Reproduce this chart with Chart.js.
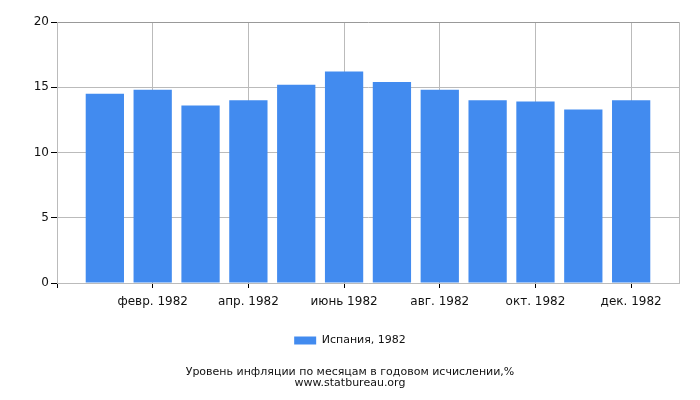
<!DOCTYPE html>
<html>
<head>
<meta charset="utf-8">
<script src="https://cdn.jsdelivr.net/npm/chart.js@4/dist/chart.umd.min.js"></script>
<style>
  html, body { margin: 0; padding: 0; background: #fff; }
  #wrap { width: 700px; height: 400px; }
</style>
</head>
<body>
<div id="wrap"><canvas id="chart"></canvas></div>
<script>
// months shown on the category axis (the axis has an empty slot at each end)
var months = ["янв. 1982", "февр. 1982", "март 1982", "апр. 1982", "май 1982", "июнь 1982",
              "июль 1982", "авг. 1982", "сент. 1982", "окт. 1982", "нояб. 1982", "дек. 1982"];
// inflation, % year on year
var spain1982 = [14.5, 14.8, 13.6, 14.0, 15.2, 16.2, 15.4, 14.8, 14.0, 13.9, 13.3, 14.0];
var yTicks = [0, 5, 10, 15, 20];
var seriesName = "Испания, 1982";
var titleLines = ["Уровень инфляции по месяцам в годовом исчислении,%", "www.statbureau.org"];

var labels = [""].concat(months).concat([""]);
var values = [null].concat(spain1982).concat([null]);

var font = "'DejaVu Sans', sans-serif";
var gridColor = "#bbbbbb";

// every second month gets a label and a grid line
function shown(i) { return i >= 2 && i <= 12 && i % 2 === 0; }

new Chart(document.getElementById("chart").getContext("2d"), {
    type: "bar",
    data: {
        labels: labels,
        datasets: [{
            label: seriesName,
            data: values,
            backgroundColor: "#428bef",
            borderWidth: 0,
            barPercentage: 0.8,
            categoryPercentage: 1.0
        }]
    },
    options: {
        responsive: true,
        maintainAspectRatio: false,
        animation: false,
        // equal side padding keeps legend and title centred on the page
        layout: { padding: { left: 21, right: 21, top: 22, bottom: 11 } },
        scales: {
            x: {
                offset: false,
                border: { color: gridColor, width: 1 },
                grid: {
                    offset: false,
                    color: function(c) {
                        if (c.index === 13) return gridColor;
                        return shown(c.index) ? gridColor : "rgba(0,0,0,0)";
                    },
                    tickColor: function(c) {
                        return (c.index === 0 || shown(c.index)) ? "#000" : "rgba(0,0,0,0)";
                    },
                    tickLength: 5
                },
                ticks: {
                    autoSkip: false,
                    maxRotation: 0,
                    color: "#111",
                    font: { family: font, size: 12 },
                    padding: 7,
                    callback: function(v, i) { return shown(i) ? labels[i] : ""; }
                },
                afterFit: function(s) { s.height = 40; }
            },
            y: {
                min: 0,
                max: 20,
                border: { color: gridColor, width: 1 },
                grid: {
                    color: function(c) { return c.tick && c.tick.value === 20 ? "#999" : gridColor; },
                    tickColor: "#000",
                    tickLength: 6
                },
                afterBuildTicks: function(s) {
                    s.ticks = yTicks.map(function(v) { return { value: v }; });
                },
                ticks: {
                    color: "#111",
                    font: { family: font, size: 12 },
                    padding: 2
                },
                afterFit: function(s) { s.width = 36; }
            }
        },
        plugins: {
            legend: {
                position: "bottom",
                labels: {
                    boxWidth: 22,
                    boxHeight: 8,
                    color: "#111",
                    font: { family: font, size: 11 },
                    padding: 12
                }
            },
            title: {
                display: true,
                position: "bottom",
                text: titleLines,
                color: "#111",
                font: { family: font, size: 11, weight: "normal", lineHeight: 1.0 },
                padding: { top: 11, bottom: 0 }
            },
            tooltip: { enabled: false }
        }
    }
});
</script>
</body>
</html>
